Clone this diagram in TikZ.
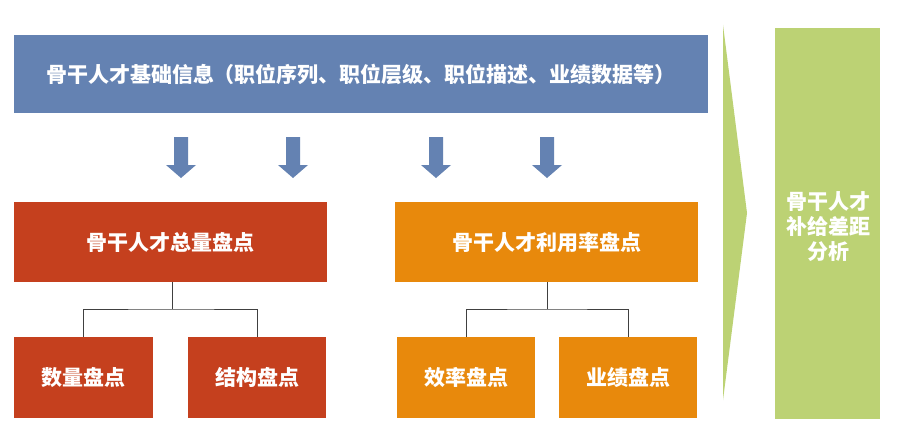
\documentclass[tikz,border=0pt]{standalone}
\usepackage{fontspec}
\newfontfamily\cjk{Noto Sans CJK SC}
\definecolor{cblue}{HTML}{6482B2}
\definecolor{cred}{HTML}{C5401E}
\definecolor{corange}{HTML}{E8890C}
\definecolor{cgreen}{HTML}{BCD274}
\definecolor{cline}{HTML}{404040}
\begin{document}
\begin{tikzpicture}[x=1pt,y=-1pt,
  box/.style={rectangle, inner sep=0pt, text=white, font=\cjk\bfseries\fontsize{21}{25}\selectfont, align=center},
  conn/.style={draw=cline, line width=0.9pt}]
\useasboundingbox (0,0) rectangle (900,436);
\fill[white] (0,0) rectangle (900,436);
% top box
\node[box, fill=cblue, minimum width=694, minimum height=78] (top) at (361,74) {骨干人才基础信息（职位序列、职位层级、职位描述、业绩数据等）};
% arrows
\foreach \x in {181,293,436,547}{
  \fill[cblue] (\x-7,137) -- (\x+7,137) -- (\x+7,165) -- (\x+15,165) -- (\x,178) -- (\x-15,165) -- (\x-7,165) -- cycle;
}
% left group
\node[box, fill=cred, minimum width=313, minimum height=80] (tot) at (170.5,242) {骨干人才总量盘点};
\node[box, fill=cred, minimum width=139, minimum height=81] (num) at (83.5,377.5) {数量盘点};
\node[box, fill=cred, minimum width=138, minimum height=81] (str) at (257,377.5) {结构盘点};
\coordinate (lj) at (172,309);
\draw[conn] (tot.south -| lj) -- (lj);
\draw[conn] (num.north) |- (lj) -| (str.north);
% right group
\node[box, fill=corange, minimum width=303, minimum height=80] (use) at (546.5,242) {骨干人才利用率盘点};
\node[box, fill=corange, minimum width=138, minimum height=81] (eff) at (466,377.5) {效率盘点};
\node[box, fill=corange, minimum width=138, minimum height=81] (per) at (628,377.5) {业绩盘点};
\coordinate (rj) at (547,309);
\draw[conn] (use.south -| rj) -- (rj);
\draw[conn] (eff.north) |- (rj) -| (per.north);
% chevron
\fill[cgreen] (723,25) -- (747,213) -- (723,400) -- cycle;
% right box
\node[box, fill=cgreen, minimum width=105, minimum height=391] (gap) at (827.5,223.5) {};
\node[box] (gaptxt) at (828,227) {骨干人才\\补给差距\\分析};
\end{tikzpicture}
\end{document}
